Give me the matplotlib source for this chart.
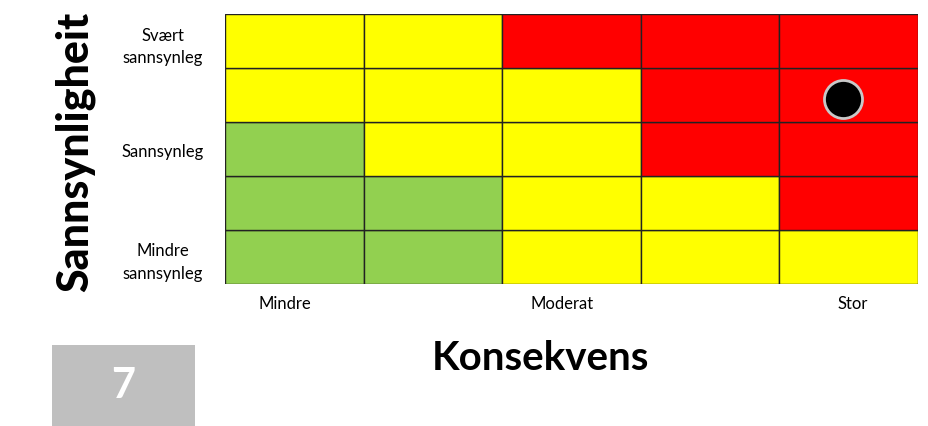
import numpy as np
import matplotlib.pyplot as plt
from matplotlib.patches import Rectangle

# risk matrix, rows from bottom (Mindre sannsynleg) to top (Svært sannsynleg)
# G = green, Y = yellow, R = red
matrix = [
    ['G', 'G', 'Y', 'Y', 'Y'],
    ['G', 'G', 'Y', 'Y', 'R'],
    ['G', 'Y', 'Y', 'R', 'R'],
    ['Y', 'Y', 'Y', 'R', 'R'],
    ['Y', 'Y', 'R', 'R', 'R'],
]
x_ticks = [0.43, 2.43, 4.53]
x_labels = ['Mindre', 'Moderat', 'Stor']
y_ticks = [0.5, 2.5, 4.5]
y_labels = ['Mindre\nsannsynleg', 'Sannsynleg', 'Svært\nsannsynleg']
point_x = [4.46]
point_y = [3.43]
number = '7'

colors = {'G': '#92d050', 'Y': '#ffff00', 'R': '#ff0000'}

plt.rcParams['font.family'] = ['Lato', 'DejaVu Sans']

fig = plt.figure(figsize=(9.29, 4.27), dpi=100)
ax = fig.add_axes([0.2422, 0.3326, 0.746, 0.632])

for r, row in enumerate(matrix):
    for c, v in enumerate(row):
        ax.add_patch(Rectangle((c, r), 1, 1, facecolor=colors[v],
                               edgecolor='#222222', linewidth=1.0))

ax.scatter(point_x, point_y, s=750, color='black', edgecolors='#c8c8c8',
           linewidths=2, zorder=5)

ax.set_xlim(0, 5)
ax.set_ylim(0, 5)
ax.set_xticks(x_ticks)
ax.set_xticklabels(x_labels, fontsize=12)
ax.set_yticks(y_ticks)
ax.set_yticklabels(y_labels, fontsize=12, ha='center', multialignment='center',
                   linespacing=1.5)
ax.tick_params(length=0)
ax.tick_params(axis='x', pad=8)
ax.tick_params(axis='y', pad=45)
for s in ax.spines.values():
    s.set_visible(False)

fig.text(0.081, 0.645, 'Sannsynligheit', rotation=90, fontsize=31,
         fontweight='black', ha='center', va='center')
fig.text(0.582, 0.16, 'Konsekvens', fontsize=29, fontweight='bold',
         ha='center', va='center')

# number box
fig.patches.append(Rectangle((0.056, 0.0), 0.154, 0.19, transform=fig.transFigure,
                             facecolor='#bfbfbf', edgecolor='none'))
fig.text(0.133, 0.095, number, fontsize=30, fontweight='bold', color='white',
         ha='center', va='center')

fig.savefig('out.png', dpi=100)
